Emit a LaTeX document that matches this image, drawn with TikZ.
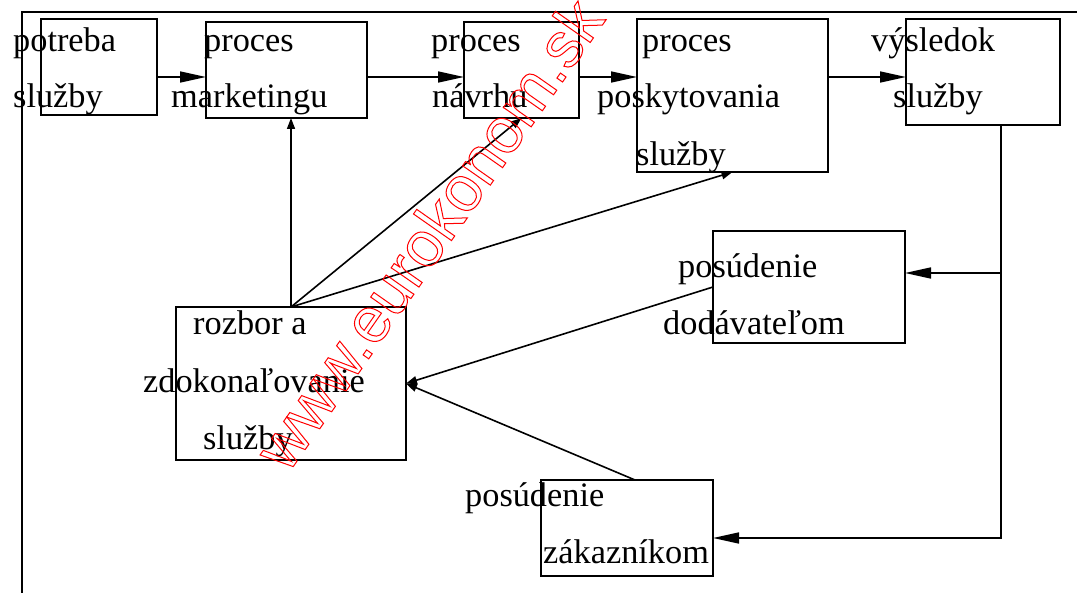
\documentclass[tikz,border=0pt]{standalone}
\usepackage{fontspec}
\setmainfont{Liberation Serif}
\newfontfamily\wmfont{Liberation Sans}
\usetikzlibrary{arrows.meta}
\newcommand{\outlinetext}[1]{\special{pdf:literal direct 1 Tr 1 w}#1\special{pdf:literal direct 0 Tr}}
\begin{document}
\begin{tikzpicture}[x=1pt,y=-1pt,
  box/.style={draw, line width=1.6pt, inner sep=0pt, outer sep=0pt},
  lbl/.style={anchor=base west, inner sep=0pt, font=\fontsize{34.3}{40}\selectfont},
  flow/.style={line width=1.6pt, -{Triangle[length=26pt,width=11pt]}},
  link/.style={line width=1.6pt, -{Triangle[length=11pt,width=8pt]}},
  plain/.style={line width=1.6pt}
]
\useasboundingbox (0,0) rectangle (1077,593);
% outer frame
\draw[plain] (22,593) -- (22,12) -- (1077,12);

% boxes
\node[box, minimum width=116pt, minimum height=96pt]  (potreba)   at (99,67) {};
\node[box, minimum width=161pt, minimum height=96pt]  (marketing) at (286.5,70) {};
\node[box, minimum width=115pt, minimum height=96pt]  (navrh)     at (521.5,70) {};
\node[box, minimum width=191pt, minimum height=153pt] (posky)     at (732.5,95.5) {};
\node[box, minimum width=154pt, minimum height=106pt] (vysledok)  at (983,72) {};
\node[box, minimum width=192pt, minimum height=112pt] (dod)       at (809,287) {};
\node[box, minimum width=230pt, minimum height=153pt] (rozbor)    at (291,383.5) {};
\node[box, minimum width=172pt, minimum height=96pt]  (zak)       at (627,528) {};

% texts
\node[lbl] (t1a) at (13,52)  {potreba};
\node[lbl] (t1b) at (13,108) {služby};
\node[lbl] (t2a) at (204,52) {proces};
\node[lbl] (t2b) at (171,108) {marketingu};
\node[lbl] (t3a) at (431,52) {proces};
\node[lbl] (t3b) at (432,108) {návrhu};
\node[lbl] (t4a) at (642,52) {proces};
\node[lbl] (t4b) at (597,108) {poskytovania};
\node[lbl] (t4c) at (636,166) {služby};
\node[lbl] (t5a) at (871,52) {výsledok};
\node[lbl] (t5b) at (893,108) {služby};
\node[lbl] (t6a) at (678,278) {posúdenie};
\node[lbl] (t6b) at (663,335) {dodávateľom};
\node[lbl] (t7a) at (193,335) {rozbor a};
\node[lbl] (t7b) at (143,393) {zdokonaľovanie};
\node[lbl] (t7c) at (203,450) {služby};
\node[lbl] (t8a) at (465,507) {posúdenie};
\node[lbl] (t8b) at (543,563) {zákazníkom};

% connectors
\coordinate (row) at (0,77);
\draw[flow] (potreba.east |- row) -- (marketing.west |- row);
\draw[flow] (marketing.east |- row) -- (navrh.west |- row);
\draw[flow] (navrh.east |- row) -- (posky.west |- row);
\draw[flow] (posky.east |- row) -- (vysledok.west |- row);

\draw[link] (rozbor.north) -- (rozbor.north |- marketing.south);
\draw[link] (rozbor.north) -- (navrh.south);
\draw[link] (rozbor.north) -- (posky.south);

\coordinate (vbot) at (1001,538);
\coordinate (vmid) at (1001,273);
\draw[flow] (vysledok.south -| vbot) -- (vbot) -- (zak.east |- vbot);
\draw[flow] (vmid) -- (dod.east |- vmid);

\draw[link] (dod.west) -- (rozbor.east);
\draw[link] ([xshift=8pt]zak.north) -- (rozbor.east);

% watermark
\node[anchor=base, rotate=55, text=red, inner sep=0pt,
      font=\wmfont\fontsize{64}{64}\selectfont] (wm) at (447,247) {\outlinetext{www.eurokonom.sk}};
\end{tikzpicture}
\end{document}
